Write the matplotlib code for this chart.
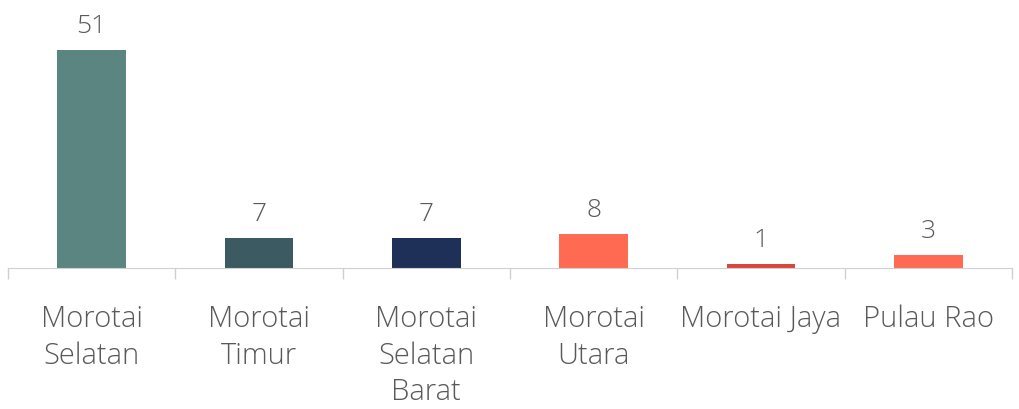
import matplotlib
matplotlib.use('Agg')
import matplotlib.pyplot as plt
import numpy as np

plt.rcParams['font.family'] = ['Open Sans', 'DejaVu Sans']

kecamatan = ['Morotai\nSelatan', 'Morotai\nTimur', 'Morotai\nSelatan\nBarat',
             'Morotai\nUtara', 'Morotai Jaya', 'Pulau Rao']
jumlah = [51, 7, 7, 8, 1, 3]
warna = ['#5A8580', '#3B5A61', '#1E3057', '#FF6B52', '#D9473A', '#FF6B52']

fig = plt.figure(figsize=(10.2, 4.09), dpi=100)
ax = fig.add_axes([8/1020, 1-268/409, 1004/1020, 256.5/409])

x = np.arange(len(jumlah))
bars = ax.bar(x, jumlah, width=0.41, color=warna, zorder=2)
for b, v in zip(bars, jumlah):
    ax.annotate(str(v), (b.get_x()+b.get_width()/2, v), xytext=(0, 8),
                textcoords='offset points', ha='center', va='bottom',
                fontsize=19, color='#595959', fontweight='light')

ax.set_xlim(-0.5, len(jumlah)-0.5)
ax.set_ylim(0, 60)
ax.set_xticks(x)
ax.set_xticklabels(kecamatan, fontsize=21, color='#595959', linespacing=1.33,
                   va='top', fontweight='light')
ax.tick_params(axis='x', which='major', length=0, pad=26)
ax.set_xticks(np.arange(-0.5, len(jumlah)), minor=True)
ax.tick_params(axis='x', which='minor', length=8, color='#D0D0D0', width=1)
ax.set_yticks([])
for s in ['top', 'left', 'right']:
    ax.spines[s].set_visible(False)
ax.spines['bottom'].set_color('#D0D0D0')

fig.savefig('out.png', dpi=100)
